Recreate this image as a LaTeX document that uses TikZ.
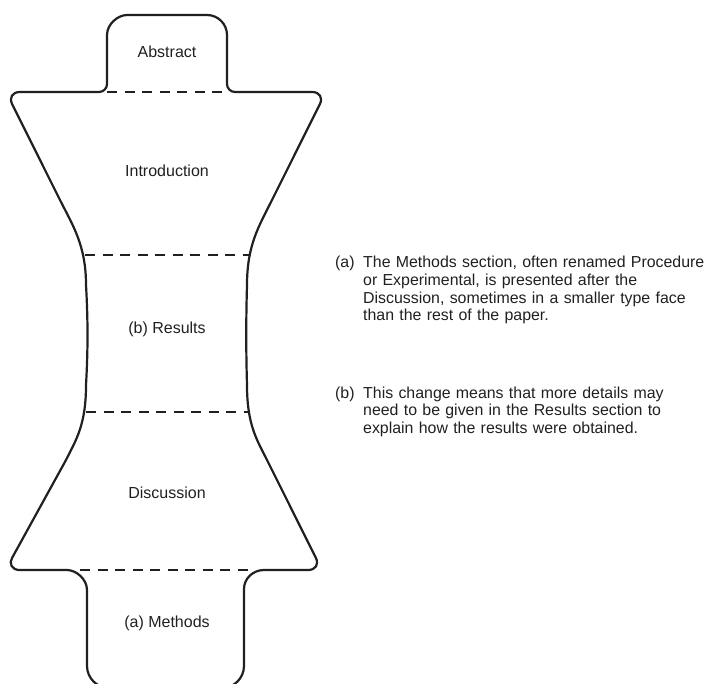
\documentclass[tikz,border=0pt]{standalone}
\usepackage{fontspec}
\setmainfont{Liberation Sans}
\definecolor{ink}{RGB}{35,31,32}
\begin{document}
\begin{tikzpicture}[x=1pt,y=-1pt,
  outline/.style={draw=ink, line width=2.2pt, line join=round},
  divider/.style={draw=ink, line width=2.2pt, dash pattern=on 10pt off 7.5pt},
  section/.style={font=\fontsize{16}{17.6}\selectfont, text=ink, inner sep=0pt, anchor=base},
  notelabel/.style={font=\fontsize{15.9}{17.6}\selectfont, text=ink, inner sep=0pt, anchor=base west},
  notetext/.style={font=\fontsize{15.9}{17.6}\selectfont, text=ink, inner sep=0pt, anchor=base west, text width=352pt, align=left}]
\useasboundingbox (0,0) rectangle (717,684);
\begin{scope}
\clip (0,0) rectangle (717,684);
\draw[outline]
  (107,84) -- (107,35) .. controls (107,24) and (118,15) .. (127,15)
  -- (207,15) .. controls (218,15) and (227,24) .. (227,35)
  -- (227,84) .. controls (227,88.4) and (230.6,92) .. (235,92)
  -- (312,92) .. controls (319.7,92) and (323.2,97.6) .. (319.7,104.5)
  -- (272,200) .. controls (259,226) and (247,245) .. (247,285)
  .. controls (246,320) and (246,350) .. (247,385)
  .. controls (247,425) and (257,440) .. (267,460)
  -- (315.7,557.5) .. controls (319.2,564.4) and (315.7,570) .. (308,570)
  -- (264,570) .. controls (253,570) and (244,578.5) .. (244,589)
  -- (244,666) .. controls (244,678) and (234,688) .. (222,688)
  -- (109,688) .. controls (97,688) and (87,678) .. (87,666)
  -- (87,590) .. controls (87,579) and (76,570) .. (67,570)
  -- (19.5,570) .. controls (11.8,570) and (8.5,563.2) .. (12.2,557.7)
  -- (66,460) .. controls (76,440) and (86,425) .. (86,385)
  .. controls (88,350) and (88,320) .. (86,285)
  .. controls (86,245) and (72.5,225) .. (60,200)
  -- (12.3,104.5) .. controls (8.8,97.6) and (12.3,92) .. (20,92)
  -- (99,92) .. controls (103.4,92) and (107,88.4) .. (107,84) -- cycle;
\end{scope}
\draw[divider] (107,92) -- (227,92);
\draw[divider] (85,255) -- (250,255);
\draw[divider] (86,412) -- (248,412);
\draw[divider] (80,570) -- (255,570);
\node[section] (abstract) at (167,58) {Abstract};
\node[section] (intro) at (167,177) {Introduction};
\node[section] (results) at (167,334) {(b) Results};
\node[section] (discussion) at (167,498) {Discussion};
\node[section] (methods) at (167,627) {(a) Methods};
\node[notelabel] (la) at (335,268) {(a)};
\node[notetext] (ta) at (363,268) {The Methods section, often renamed Procedure\\ or Experimental, is presented after the\\ Discussion, sometimes in a smaller type face\\ than the rest of the paper.};
\node[notelabel] (lb) at (335,398) {(b)};
\node[notetext] (tb) at (363,398) {This change means that more details may\\ need to be given in the Results section to\\ explain how the results were obtained.};
\end{tikzpicture}
\end{document}
